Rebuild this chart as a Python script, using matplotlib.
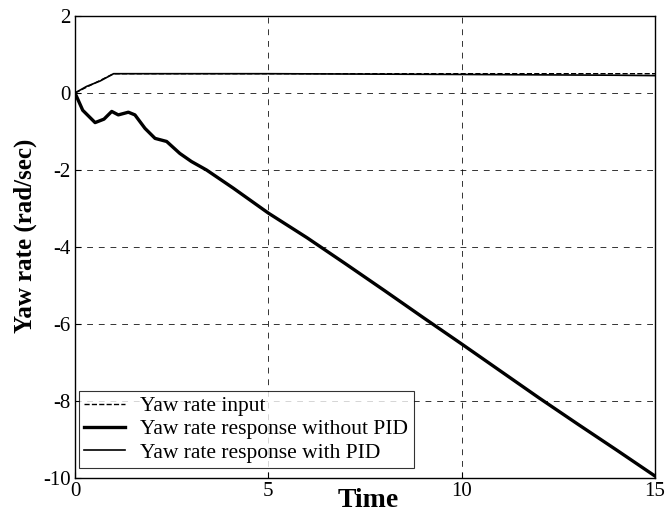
import matplotlib
matplotlib.use("Agg")
import matplotlib.pyplot as plt

# Data
t_input = [0, 1, 15]
yaw_input = [0, 0.5, 0.5]

t_pid = [0, 0.3, 0.65, 1.0, 5, 10, 14, 15]
yaw_pid = [0, 0.17, 0.31, 0.5, 0.5, 0.48, 0.46, 0.45]

t_nopid = [0, 0.2, 0.52, 0.75, 0.95, 1.12, 1.38, 1.55, 1.81, 2.07, 2.37, 2.71,
           3.01, 3.40, 4.09, 5, 6, 7, 8, 9, 10, 11, 12, 13, 14, 15]
yaw_nopid = [0, -0.45, -0.77, -0.68, -0.48, -0.57, -0.50, -0.57, -0.92, -1.18,
             -1.26, -1.57, -1.78, -2.0, -2.47, -3.12, -3.76, -4.44, -5.13,
             -5.83, -6.52, -7.22, -7.92, -8.60, -9.27, -9.95]

xticks = [0, 5, 10, 15]
yticks = [-10, -8, -6, -4, -2, 0, 2]

plt.rcParams['font.family'] = ['Liberation Serif', 'DejaVu Serif']
plt.rcParams['axes.unicode_minus'] = False

fig = plt.figure(figsize=(6.66, 5.14), dpi=100)
ax = fig.add_axes([0.1126, 0.070, 0.871, 0.899])

ax.plot(t_input, yaw_input, 'k--', lw=1.0, label='Yaw rate input')
ax.plot(t_nopid, yaw_nopid, 'k-', lw=2.4, label='Yaw rate response without PID')
ax.plot(t_pid, yaw_pid, 'k-', lw=1.2, label='Yaw rate response with PID')

ax.set_xlim(0, 15)
ax.set_ylim(-10, 2)
ax.set_xticks(xticks)
ax.set_yticks(yticks)
ax.tick_params(labelsize=15, direction='in', length=4, pad=3)
ax.grid(True, color='black', linestyle=(0, (6, 6)), lw=0.7, alpha=0.8)
for s in ax.spines.values():
    s.set_linewidth(1.0)

ax.set_ylabel('Yaw rate (rad/sec)', fontsize=18, fontweight='bold')
ax.yaxis.set_label_coords(-0.066, 0.524)
ax.set_xlabel('Time', fontsize=20, fontweight='bold')
ax.xaxis.set_label_coords(0.505, -0.062)
ax.xaxis.label.set_va('baseline')

leg = ax.legend(loc='lower left', bbox_to_anchor=(0.007, 0.0216), fontsize=15.5,
                frameon=True, fancybox=False, edgecolor='black', borderaxespad=0,
                handlelength=1.9, handletextpad=0.7, borderpad=0.25,
                labelspacing=0.15)
leg.get_frame().set_linewidth(0.8)

fig.savefig('out.png', dpi=100)
